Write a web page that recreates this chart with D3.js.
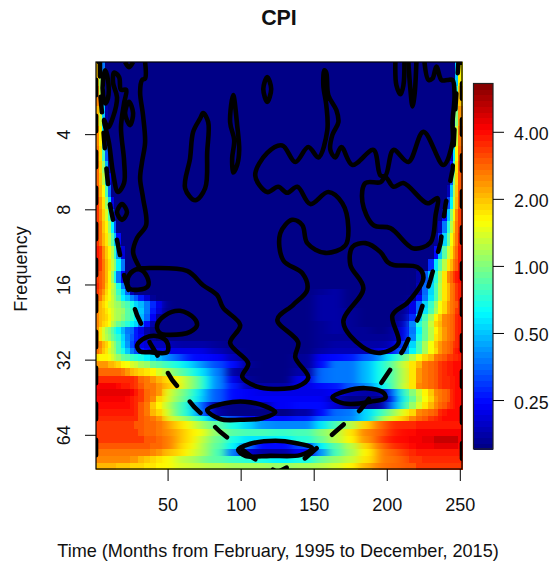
<!DOCTYPE html>
<html>
<head>
<meta charset="utf-8">
<title>CPI</title>
<script src="https://cdn.jsdelivr.net/npm/d3@7/dist/d3.min.js"></script>
<style>
  html, body { margin: 0; padding: 0; background: #fff; }
  svg { display: block; }
  text { font-family: "Liberation Sans", Arial, sans-serif; fill: #111; }
</style>
</head>
<body>
<div id="chart"></div>
<script>
// ==============================
// DATA
// ==============================

// Time cell edges, in months
const timeEdges = [1,3,5,7,9,11,13,15,18,21,24,27,30,34,38,42,46,50,55,60,65,70,75,80,90,100,110,120,135,150,160,170,180,190,195,200,205,210,215,220,224,228,232,235,238,241,243,245,247,249,251.5];

// Row edges, log2 of the period, from the bottom of the plot to the top
const rowEdges = [6.455,6.362,6.269,6.176,6.096,6.003,5.910,5.816,5.737,5.644,5.551,5.471,5.378,5.298,5.205,5.098,5.005,4.912,4.832,4.739,4.646,4.553,4.473,4.380,4.301,4.207,4.128,4.048,3.968,3.809,3.649,3.476,3.303,3.144,2.984,2.824,2.665,2.505,2.346,2.146,1.880,1.614,1.348,1.04];

// Wavelet power, log2 in tenths, one row per band, bottom row first
const n = -27;
const powerRows = [
[11,11,11,11,11,11,11,10,10,10,9,9,9,8,8,7,7,6,5,5,4,4,3,3,2,2,2,1,2,3,5,7,11,13,14,15,15,16,16,17,17,17,17,17,17,17,17,17,17,17],
[13,13,13,13,13,13,13,13,13,13,12,12,11,10,9,8,7,6,4,3,2,0,-1,-2,-4,-5,-6,-7,-6,-1,1,4,8,11,14,14,15,16,17,17,18,18,18,18,18,18,18,18,18,18],
[14,14,14,14,14,14,14,14,14,14,14,14,14,14,13,12,11,10,9,7,5,3,1,-3,-14,-23,-25,-25,-21,-12,-3,2,7,11,14,15,16,17,18,19,19,19,19,19,19,19,19,19,19,19],
[16,16,16,16,16,16,16,16,16,16,16,16,16,16,15,15,14,13,10,8,6,3,1,-2,-7,-14,-20,-20,-17,-7,-2,3,9,13,15,17,18,19,20,21,21,21,22,22,22,22,22,22,22,20],
[17,17,17,17,17,17,17,17,17,17,17,17,17,16,16,15,14,13,11,9,7,4,2,-1,-6,-8,-8,-7,-5,-1,3,7,12,15,17,19,20,20,21,21,22,22,23,23,23,23,23,23,23,21],
[17,17,17,17,17,17,17,17,17,17,17,17,16,15,15,14,13,12,11,9,7,6,4,0,-2,-3,-3,-4,-3,0,3,8,13,15,16,18,19,20,20,21,21,21,21,21,21,21,21,21,21,21],
[17,17,17,17,17,17,17,17,17,17,17,16,16,15,15,14,13,11,9,7,5,2,0,-2,-6,-9,-12,-13,-13,-8,-3,3,9,13,15,17,18,18,18,19,19,19,19,19,19,19,19,19,19,19],
[18,18,18,18,18,18,18,18,18,18,18,18,16,15,14,12,9,5,3,1,-2,-5,-8,-13,-17,-20,-20,-20,-19,-15,-14,-13,-9,-3,2,5,8,10,13,15,16,17,18,19,20,20,20,20,20,20],
[19,19,19,19,19,19,19,19,19,19,19,18,16,14,11,9,6,2,-2,-5,-9,-13,-18,-25,n,n,n,n,-25,-20,-15,-14,-9,-6,-3,0,3,6,9,13,14,15,16,18,19,20,20,20,20,20],
[20,20,20,20,20,20,20,20,20,20,19,18,16,14,10,7,5,1,-2,-5,-10,-14,-18,-26,n,n,-25,-21,-20,-20,-23,n,n,n,-24,-15,-10,-4,1,5,8,11,13,15,16,17,18,19,20,20],
[21,21,21,21,21,21,21,21,21,20,19,18,17,15,13,9,7,3,0,-2,-6,-9,-12,-16,-20,-21,-21,-21,-21,-21,-24,n,n,n,n,-20,-11,-6,-1,3,6,9,12,14,15,16,18,19,20,20],
[22,22,22,22,22,22,22,22,22,22,21,19,17,15,14,12,7,4,1,-1,-5,-8,-12,-16,-20,-21,-22,-22,-22,-22,-21,-24,-25,-25,-24,-17,-10,-4,0,4,7,10,13,14,15,16,18,19,20,20],
[21,21,21,21,21,21,21,20,19,19,18,17,16,14,14,12,11,9,7,3,0,-3,-7,-13,-19,-24,-25,-25,-22,-20,-19,-16,-13,-9,-7,-3,0,5,8,13,14,15,16,17,18,18,19,19,20,20],
[18,18,18,18,18,18,18,18,18,18,18,17,15,14,12,11,9,8,6,3,0,-3,-7,-13,-22,-26,n,n,-22,-15,-14,-14,-11,-7,-5,-3,0,4,8,12,14,15,16,17,18,18,19,19,20,20],
[15,15,15,15,15,15,15,15,14,12,11,10,9,8,7,5,3,1,-1,-3,-6,-8,-10,-14,-25,n,n,n,-25,-15,-14,-14,-11,-7,-5,-3,0,4,8,12,14,15,16,17,18,19,19,20,20,20],
[12,12,12,12,11,11,10,9,7,6,5,4,2,1,-1,-2,-3,-5,-6,-8,-10,-12,-14,-17,-20,-26,n,n,-26,-20,-14,-14,-11,-7,-5,-2,1,5,8,11,14,15,16,17,18,19,19,20,20,20],
[8,7,7,7,6,5,3,1,-1,-2,-4,-5,-6,-7,-9,-11,-12,-14,-16,-18,-20,-20,-20,-21,-24,n,n,n,-26,-21,-20,-19,-16,-14,-11,-7,-4,-1,3,6,9,11,14,15,16,17,17,18,18,19],
[14,12,10,8,5,3,1,-3,-6,-10,-14,-17,-19,-21,-22,-22,-22,-22,-22,-22,-22,-22,-23,-24,-26,n,n,n,n,-25,-24,-24,-24,-23,-22,-20,-17,-14,-7,-3,2,6,9,12,14,15,16,18,19,20],
[14,13,11,9,6,3,0,-3,-8,-12,-17,-20,-22,-23,-24,-24,-24,-24,-25,-25,-25,-25,-25,-26,n,n,n,n,n,-26,-25,-25,-25,-25,-25,-24,-21,-16,-9,-3,2,6,10,12,14,15,16,17,18,19],
[12,8,5,3,1,-1,-3,-5,-9,-13,-16,-19,-21,-24,-26,n,n,n,n,n,n,n,n,n,n,n,n,n,n,-26,-26,-26,-26,-26,-26,-26,-24,-21,-13,-6,-1,3,8,10,12,14,15,16,18,19],
[12,8,5,2,0,-2,-5,-7,-11,-14,-15,-19,-22,-25,n,n,n,n,n,n,n,n,n,n,n,n,n,n,n,-26,-25,-26,-26,n,n,-26,-24,-21,-14,-7,-1,3,7,10,12,14,15,16,18,19],
[13,11,9,8,6,3,1,-1,-3,-5,-7,-9,-14,-20,-25,n,n,n,n,n,n,n,n,n,n,n,n,n,n,-26,-25,-26,n,n,n,n,-26,-23,-13,-5,-1,4,9,11,13,14,15,16,18,19],
[13,11,10,9,7,5,3,2,0,-2,-4,-7,-11,-15,-21,-26,n,n,n,n,n,n,n,n,n,n,n,n,n,-25,-25,-26,n,n,n,n,n,-25,-18,-9,-3,2,7,10,13,14,15,16,18,19],
[13,11,10,8,6,5,3,2,1,-2,-4,-7,-10,-14,-19,-23,n,n,n,n,n,n,n,n,n,n,n,n,n,-25,-25,-26,n,n,n,n,n,-26,-22,-15,-8,-3,2,6,9,12,14,15,17,18],
[13,11,9,7,5,4,2,1,-1,-3,-6,-9,-11,-14,-18,-22,-26,n,n,n,n,n,n,n,n,n,n,n,n,-25,-25,n,n,n,n,n,n,-26,-22,-15,-9,-4,1,6,9,12,14,15,16,18],
[16,14,11,8,6,4,1,-2,-7,-10,-13,-16,-19,-23,-26,n,n,n,n,n,n,n,n,n,n,n,n,n,n,-25,-25,n,n,n,n,n,n,n,-26,-21,-14,-8,-3,3,8,11,14,15,17,19],
[17,15,12,9,6,3,1,-4,-9,-15,-24,n,n,n,n,n,n,n,n,n,n,n,n,n,n,n,n,n,n,-26,-25,n,n,n,n,n,n,n,n,-24,-15,-9,-3,3,8,11,14,15,17,19],
[18,16,14,10,7,4,1,-6,-14,-21,n,n,n,n,n,n,n,n,n,n,n,n,n,n,n,n,n,n,n,n,n,n,n,n,n,n,n,n,n,-24,-15,-9,-3,3,8,11,14,15,17,19],
[17,16,14,11,7,1,-6,-14,-21,n,n,n,n,n,n,n,n,n,n,n,n,n,n,n,n,n,n,n,n,n,n,n,n,n,n,n,n,n,n,-25,-16,-10,-5,2,8,13,15,17,19,20],
[18,17,14,11,8,4,0,-7,-14,n,n,n,n,n,n,n,n,n,n,n,n,n,n,n,n,n,n,n,n,n,n,n,n,n,n,n,n,n,n,n,n,-18,-8,-2,3,8,11,14,16,19],
[19,17,13,10,7,3,-4,-12,-23,n,n,n,n,n,n,n,n,n,n,n,n,n,n,n,n,n,n,n,n,n,n,n,n,n,n,n,n,n,n,n,n,n,-20,-10,-2,4,8,12,15,19],
[17,14,11,8,4,-2,-10,-20,n,n,n,n,n,n,n,n,n,n,n,n,n,n,n,n,n,n,n,n,n,n,n,n,n,n,n,n,n,n,n,n,n,n,-26,-18,-9,-1,6,11,14,18],
[17,14,10,7,1,-7,-16,n,n,n,n,n,n,n,n,n,n,n,n,n,n,n,n,n,n,n,n,n,n,n,n,n,n,n,n,n,n,n,n,n,n,n,n,-24,-14,-5,3,9,14,17],
[17,13,9,5,-3,-14,-24,n,n,n,n,n,n,n,n,n,n,n,n,n,n,n,n,n,n,n,n,n,n,n,n,n,n,n,n,n,n,n,n,n,n,n,n,n,-20,-10,0,7,13,17],
[17,12,8,1,-9,-22,n,n,n,n,n,n,n,n,n,n,n,n,n,n,n,n,n,n,n,n,n,n,n,n,n,n,n,n,n,n,n,n,n,n,n,n,n,n,n,-17,-7,4,11,16],
[16,11,6,-3,-15,n,n,n,n,n,n,n,n,n,n,n,n,n,n,n,n,n,n,n,n,n,n,n,n,n,n,n,n,n,n,n,n,n,n,n,n,n,n,n,n,-24,-10,2,10,16],
[15,10,3,-7,-21,n,n,n,n,n,n,n,n,n,n,n,n,n,n,n,n,n,n,n,n,n,n,n,n,n,n,n,n,n,n,n,n,n,n,n,n,n,n,n,n,n,-16,0,9,16],
[15,9,1,-11,-25,n,n,n,n,n,n,n,n,n,n,n,n,n,n,n,n,n,n,n,n,n,n,n,n,n,n,n,n,n,n,n,n,n,n,n,n,n,n,n,n,n,-20,-3,8,16],
[14,8,-3,-16,n,n,n,n,n,n,n,n,n,n,n,n,n,n,n,n,n,n,n,n,n,n,n,n,n,n,n,n,n,n,n,n,n,n,n,n,n,n,n,n,n,n,-25,-8,6,15],
[13,7,-7,-20,n,n,n,n,n,n,n,n,n,n,n,n,n,n,n,n,n,n,n,n,n,n,n,n,n,n,n,n,n,n,n,n,n,n,n,n,n,n,n,n,n,n,n,-14,4,14],
[11,4,-10,-25,n,n,n,n,n,n,n,n,n,n,n,n,n,n,n,n,n,n,n,n,n,n,n,n,n,n,n,n,n,n,n,n,n,n,n,n,n,n,n,n,n,n,n,-20,0,12],
[13,3,-12,n,n,n,n,n,n,n,n,n,n,n,n,n,n,n,n,n,n,n,n,n,n,n,n,n,n,n,n,n,n,n,n,n,n,n,n,n,n,n,n,n,n,n,n,-24,-4,10],
[10,2,-14,n,n,n,n,n,n,n,n,n,n,n,n,n,n,n,n,n,n,n,n,n,n,n,n,n,n,n,n,n,n,n,n,n,n,n,n,n,n,n,n,n,n,n,n,n,-10,7]
];

// Significance contours, [month, log2 period]
const mainContour = [[34.6,1.04],[34.6,1.26],[32.5,1.28],[31.2,1.44],[33.2,1.75],[34.6,2.11],[32.5,2.37],[31.2,2.59],[33.2,2.85],[35.3,3.21],[29.1,3.38],[26.4,3.57],[29.8,3.74],[31.2,3.78],[38,3.78],[63.4,3.82],[74.3,4.01],[83.9,4.14],[88,4.31],[99.7,4.54],[92.8,4.78],[105.2,5.05],[101.1,5.23],[111.3,5.36],[122.3,5.39],[138.8,5.36],[146.3,5.24],[137.4,4.97],[139.4,4.77],[125.1,4.47],[136,4.27],[145.6,4.07],[142.2,3.85],[129.2,3.68],[127.1,3.32],[135.3,3.14],[142.2,3.21],[145.6,3.45],[158,3.58],[171.7,3.48],[173.7,3.24],[169.6,2.92],[160,2.77],[147.7,2.93],[138.8,2.70],[131.9,2.78],[125.7,2.70],[118.2,2.77],[110,2.55],[118.2,2.25],[128.5,2.15],[137.4,2.37],[146.3,2.17],[153.2,2.31],[159.3,1.95],[158.6,1.61],[156.6,1.35],[157.3,1.15],[158.6,1.18],[160,1.48],[165.5,1.68],[166.9,1.84],[162.8,2.01],[161.4,2.21],[164.8,2.31],[168.9,2.17],[176.5,2.41],[190.9,2.21],[195.7,2.55],[199.1,2.55],[204.6,2.21],[214.8,2.37],[225.1,1.97],[238.8,2.41],[245,2.11],[245,1.84],[246.4,1.48],[245,1.28],[241.6,1.28],[237.5,1.28],[234,1.10],[231.3,1.26],[228.6,1.28],[225.8,1.04]];
const openContours = [
  [[20.9,1.04],[23.6,1.11],[26.4,1.04]],
  [[205.9,1.04],[206.6,1.35],[209.4,1.47],[211.4,1.35],[212.1,1.04]],
  [[214.8,1.04],[216.2,1.41],[217.6,1.63],[219,1.48],[220.3,1.04]]
];
const closedContours = [
  [[199.1,2.57],[195.7,2.64],[185.4,2.65],[183.3,2.90],[190.9,3.21],[202.5,3.25],[218.3,3.52],[229.9,3.44],[233.4,3.08],[234.7,2.85],[227.9,2.92],[211.4,2.65],[204.6,2.70]],
  [[175.1,3.74],[176.5,3.50],[185.4,3.45],[195.7,3.57],[200.5,3.70],[204.6,3.74],[221,3.77],[225.1,3.91],[214.8,4.23],[203.9,4.41],[208,4.78],[195.7,4.91],[183.3,4.83],[170.3,4.50],[184,4.05]],
  [[7.2,1.15],[9.2,1.28],[9.2,1.52],[7.2,1.59],[5.8,1.48],[5.8,1.28]],
  [[6.5,1.81],[9.9,2.12],[12.7,2.52],[16.1,2.77],[20.2,2.65],[20.2,2.35],[18.1,1.91],[20.2,1.59],[21.6,1.41],[18.1,1.41],[16.8,1.24],[13.3,1.18],[12.7,1.32],[15.4,1.51],[12.7,1.77],[9.2,1.91]],
  [[23.6,1.57],[26.4,1.72],[24.3,1.88],[20.9,1.72]],
  [[18.8,2.93],[22.2,3.04],[18.8,3.14],[15.4,3.04]],
  [[118.2,1.24],[120.9,1.40],[118.2,1.57],[115.5,1.40]],
  [[74.3,1.72],[77.8,1.84],[77.1,2.24],[75.7,2.72],[68.9,2.88],[62,2.72],[65.4,2.32],[67.5,1.97],[72.3,1.79]],
  [[94.9,1.48],[97.6,1.88],[99,2.21],[97.6,2.41],[94.9,2.51],[94.2,2.32],[95.6,2.08],[92.8,1.84]],
  [[31.2,3.80],[36,3.90],[36.6,4.02],[29.8,4.07],[23.6,4.05],[22.9,3.91],[26.4,3.82]],
  [[42.8,4.54],[48.3,4.41],[58.6,4.35],[68.2,4.45],[70.2,4.54],[65.4,4.63],[51.7,4.67],[44.9,4.65]],
  [[29.1,4.81],[34.6,4.71],[43.5,4.69],[49.7,4.77],[49.7,4.90],[38,4.90],[31.2,4.89]],
  [[77.1,5.67],[89.4,5.58],[103.1,5.56],[116.8,5.62],[123.7,5.70],[114.8,5.78],[99.7,5.80],[86,5.79]],
  [[98.3,6.20],[106.6,6.12],[123.7,6.08],[137.4,6.11],[149,6.18],[140.8,6.27],[120.3,6.28],[103.1,6.28]],
  [[162.8,5.50],[171.7,5.42],[185.4,5.38],[197.7,5.44],[199.1,5.51],[188.8,5.56],[175.1,5.59],[166.9,5.56]]
];

// Cone of influence, [month, log2 period]
const coneLine = [[1,6.455],[1,1.04],[3.7,1.04],[3.7,1.41],[5.8,1.88],[7.9,2.41],[10.6,2.94],[16.1,3.48],[20.9,3.94],[29.1,4.41],[38,4.78],[53.1,5.27],[68.2,5.63],[86,5.96],[107.9,6.30],[125.1,6.50],[144.3,6.31],[164.8,5.96],[181.9,5.67],[196.3,5.31],[211.4,4.87],[222.4,4.41],[229.9,3.94],[236.8,3.45],[240.2,2.94],[245,2.48],[247.1,1.61],[249.1,1.04],[251.5,1.04],[251.5,6.455]];

// Ticks
const timeTicks = [50, 100, 150, 200, 250];
const periodTicks = [2, 3, 4, 5, 6];
const legendTicks = [0.25, 0.5, 1, 2, 4];

// ==============================
// SCALES
// ==============================

const width = 553;
const height = 565;
const plot = { left: 96, right: 462, top: 62, bottom: 469 };
const bar = { left: 473.5, right: 493, top: 83.5, bottom: 449 };

const x = d3.scaleLinear().domain([1, 251.5]).range([plot.left, plot.right]);
const y = d3.scaleLinear().domain([1.04, 6.455]).range([plot.top, plot.bottom]);

// Jet palette, 64 levels over the log2 range of the colour bar
const levels = 64;
const powerRange = [-2.73, 2.72];
const jet = d3.scaleLinear()
  .domain([0, 0.125, 0.375, 0.625, 0.875, 1])
  .range(["#00007f", "#0000ff", "#00ffff", "#ffff00", "#ff0000", "#7f0000"]);
const levelColors = d3.range(levels).map(i => jet((i + 0.5) / levels));
const color = d3.scaleQuantize().domain(powerRange).range(levelColors);

const legendY = d3.scaleLog().base(2)
  .domain(powerRange.map(d => Math.pow(2, d)))
  .range([bar.bottom, bar.top]);

const svg = d3.select("#chart").append("svg")
  .attr("width", width)
  .attr("height", height);

const defs = svg.append("defs");

defs.append("clipPath")
  .attr("id", "plot-clip")
  .append("rect")
  .attr("x", plot.left)
  .attr("y", plot.top)
  .attr("width", plot.right - plot.left)
  .attr("height", plot.bottom - plot.top);

// The wide middle cells are softened sideways, the narrow edge cells stay sharp
defs.append("clipPath")
  .attr("id", "middle-clip")
  .append("rect")
  .attr("x", x(46))
  .attr("y", plot.top)
  .attr("width", x(215) - x(46))
  .attr("height", plot.bottom - plot.top);

defs.append("filter")
  .attr("id", "soften")
  .attr("filterUnits", "userSpaceOnUse")
  .attr("x", plot.left)
  .attr("y", plot.top)
  .attr("width", plot.right - plot.left)
  .attr("height", plot.bottom - plot.top)
  .attr("color-interpolation-filters", "sRGB")
  .append("feGaussianBlur")
  .attr("stdDeviation", "5 0");

// ==============================
// HEATMAP
// ==============================

const cells = powerRows.flatMap((row, r) => row.map((v, c) => ({ r, c, v })));

function drawCells(group) {
  group.selectAll("rect")
    .data(cells)
    .join("rect")
    .attr("x", d => x(timeEdges[d.c]))
    .attr("y", d => y(rowEdges[d.r + 1]))
    .attr("width", d => x(timeEdges[d.c + 1]) - x(timeEdges[d.c]) + 0.5)
    .attr("height", d => y(rowEdges[d.r]) - y(rowEdges[d.r + 1]) + 0.5)
    .attr("fill", d => color(d.v / 10));
}

svg.append("g").attr("shape-rendering", "crispEdges").call(drawCells);

svg.append("g")
  .attr("clip-path", "url(#middle-clip)")
  .append("g")
  .attr("filter", "url(#soften)")
  .attr("shape-rendering", "crispEdges")
  .call(drawCells);

// ==============================
// CONTOURS AND CONE OF INFLUENCE
// ==============================

const lines = svg.append("g").attr("clip-path", "url(#plot-clip)");

const openLine = d3.line().x(d => x(d[0])).y(d => y(d[1])).curve(d3.curveCatmullRom);
const closedLine = d3.line().x(d => x(d[0])).y(d => y(d[1])).curve(d3.curveCatmullRomClosed);
const straightLine = d3.line().x(d => x(d[0])).y(d => y(d[1]));

lines.selectAll(".contour-open")
  .data([mainContour, ...openContours])
  .join("path")
  .attr("class", "contour-open")
  .attr("d", openLine);

lines.selectAll(".contour-closed")
  .data(closedContours)
  .join("path")
  .attr("class", "contour-closed")
  .attr("d", closedLine);

lines.selectAll("path")
  .attr("fill", "none")
  .attr("stroke", "#000")
  .attr("stroke-width", 4.6)
  .attr("stroke-linejoin", "round");

lines.append("path")
  .attr("d", straightLine(coneLine))
  .attr("fill", "none")
  .attr("stroke", "#000")
  .attr("stroke-width", 4.6)
  .attr("stroke-dasharray", "15.5 20.5")
  .attr("stroke-dashoffset", 22.2)
  .attr("stroke-linecap", "round");

// ==============================
// FRAME AND AXES
// ==============================

svg.append("rect")
  .attr("x", plot.left)
  .attr("y", plot.top)
  .attr("width", plot.right - plot.left)
  .attr("height", plot.bottom - plot.top)
  .attr("fill", "none")
  .attr("stroke", "#000")
  .attr("stroke-width", 1.2);

const xAxis = svg.append("g")
  .attr("transform", `translate(0, ${plot.bottom})`)
  .call(d3.axisBottom(x).tickValues(timeTicks).tickSize(12).tickPadding(17).tickSizeOuter(0));
xAxis.select(".domain").remove();
xAxis.selectAll("text").style("font-size", "18px");

const yAxis = svg.append("g")
  .attr("transform", `translate(${plot.left}, 0)`)
  .call(d3.axisLeft(y).tickValues(periodTicks).tickSize(11).tickFormat(d => Math.pow(2, d)).tickSizeOuter(0));
yAxis.select(".domain").remove();
yAxis.selectAll("text")
  .attr("x", -32)
  .attr("dy", "0.35em")
  .attr("text-anchor", "middle")
  .attr("transform", "rotate(-90, -32, 0)")
  .style("font-size", "18px");

// ==============================
// COLOUR BAR
// ==============================

const barLevels = d3.range(levels);
const levelStep = (powerRange[1] - powerRange[0]) / levels;

svg.append("g")
  .attr("shape-rendering", "crispEdges")
  .selectAll("rect")
  .data(barLevels)
  .join("rect")
  .attr("x", bar.left)
  .attr("width", bar.right - bar.left)
  .attr("y", i => legendY(Math.pow(2, powerRange[0] + (i + 1) * levelStep)))
  .attr("height", i => legendY(Math.pow(2, powerRange[0] + i * levelStep)) - legendY(Math.pow(2, powerRange[0] + (i + 1) * levelStep)) + 0.5)
  .attr("fill", i => levelColors[i]);

svg.append("rect")
  .attr("x", bar.left)
  .attr("y", bar.top)
  .attr("width", bar.right - bar.left)
  .attr("height", bar.bottom - bar.top)
  .attr("fill", "none")
  .attr("stroke", "#222")
  .attr("stroke-width", 1.2);

const legendAxis = svg.append("g")
  .attr("transform", `translate(${bar.right}, 0)`)
  .call(d3.axisRight(legendY).tickValues(legendTicks).tickSize(11).tickPadding(10).tickFormat(d3.format(".2f")).tickSizeOuter(0));
legendAxis.select(".domain").remove();
legendAxis.selectAll("text")
  .attr("dy", "0.45em")
  .style("font-size", "17.8px");

// ==============================
// TITLES
// ==============================

svg.append("text")
  .attr("x", 279)
  .attr("y", 25)
  .attr("text-anchor", "middle")
  .style("font-size", "21.4px")
  .style("font-weight", "bold")
  .text("CPI");

svg.append("text")
  .attr("x", 278)
  .attr("y", 557)
  .attr("text-anchor", "middle")
  .style("font-size", "18.1px")
  .text("Time (Months from February, 1995 to December, 2015)");

svg.append("text")
  .attr("transform", "translate(27, 269) rotate(-90)")
  .attr("text-anchor", "middle")
  .style("font-size", "18.1px")
  .text("Frequency");
</script>
</body>
</html>
